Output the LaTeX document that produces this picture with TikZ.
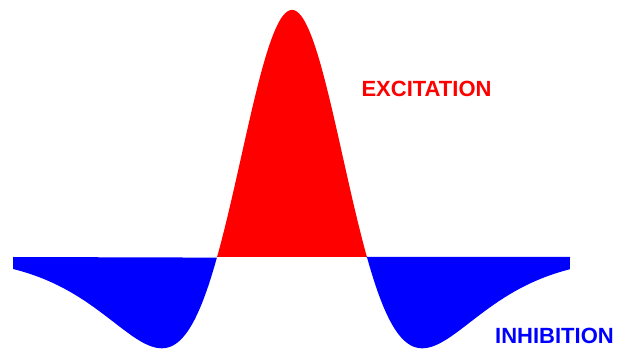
\documentclass[tikz,border=0pt]{standalone}
\usepackage{fontspec}
\setmainfont{Liberation Sans}
\begin{document}
\begin{tikzpicture}[x=1pt,y=1pt,
  lbl/.style={inner sep=0pt,anchor=base,font=\fontsize{22}{26}\selectfont\bfseries},
  declare function={hat(\t)=467*exp(-\t*\t*1.7147)-220*exp(-\t*\t*0.3737);}]
\useasboundingbox (0,0) rectangle (617,350);
% excitation lobe
\fill[red] plot[domain=-0.75:0.75,samples=120,smooth] ({292+100*\x},{93+max(hat(\x),0)}) -- cycle;
% inhibition lobes
\fill[blue] plot[domain=-2.79:-0.75,samples=120,smooth] ({292+100*\x},{93+min(hat(\x),0)}) -- (13,93) -- cycle;
\fill[blue] plot[domain=0.75:2.78,samples=120,smooth] ({292+100*\x},{93+min(hat(\x),0)}) -- (570,93) -- (366,93) -- cycle;
\node[lbl,text=red] (exc) at (426.5,253) {EXCITATION};
\node[lbl,text=blue] (inh) at (554.5,6) {INHIBITION};
\end{tikzpicture}
\end{document}
